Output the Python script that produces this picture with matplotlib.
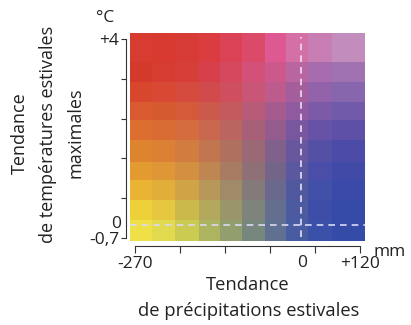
import numpy as np
import matplotlib
matplotlib.use('Agg')
import matplotlib.pyplot as plt
from matplotlib.colors import to_rgb

plt.rcParams['font.family'] = ['Open Sans', 'DejaVu Sans']

# cell colours, read left (dry) to right (wet), one list per row, top row = hottest
row0 = ['#d83b30', '#d83a30', '#d63b35', '#da3c40', '#dc4255', '#dc4a6a', '#de5892', '#d470a6', '#c97eb3', '#c28cbd']
row1 = ['#d33a2c', '#d63d30', '#d63e38', '#d7404a', '#d5485e', '#d35078', '#cc588c', '#b865a0', '#a66cad', '#a072b2']
row2 = ['#d8462e', '#d84832', '#d44a3c', '#d14b4c', '#cf4f5e', '#c95676', '#bc5b8c', '#a55e9c', '#9262aa', '#8866ae']
row3 = ['#d95a2e', '#d65a30', '#d45a3a', '#cc5a4c', '#c45a5e', '#b85b78', '#a65b8e', '#8f5a9f', '#7d5aa8', '#725aaa']
row4 = ['#dc6e30', '#d96c33', '#d46c3e', '#c9684e', '#bb6560', '#a86078', '#935c8c', '#7a569e', '#6652a6', '#5e50a6']
row5 = ['#de842e', '#dc8034', '#d27c40', '#c27650', '#b07060', '#9b6876', '#82608c', '#68569e', '#5450a6', '#4c4ca8']
row6 = ['#e39a30', '#df9636', '#d29040', '#bf8652', '#a87c62', '#8e7076', '#746488', '#5a589e', '#4a4ea8', '#424aa8']
row7 = ['#e9b434', '#e2ae3a', '#d0a446', '#b8985a', '#a08a68', '#857a7a', '#6a688c', '#50589e', '#4250a8', '#3b4aa8']
row8 = ['#eed038', '#e5c840', '#ccb94c', '#b4a85c', '#9a966a', '#7e847c', '#646e8e', '#4c5aa0', '#3e4ea8', '#364aa8']
row9 = ['#efe048', '#e2da4e', '#cbcb52', '#adb460', '#929e6c', '#78877e', '#5f7090', '#485ca2', '#3b50a8', '#344ca8']

x_ticklabels = ['-270', '', '', '', '', '+120']
y_ticklabels = ['-0,7', '', '', '', '', '+4']


def px(x, y):
	# reference pixel -> figure fraction
	return x / 411, 1 - y / 325


def main():
	fig = plt.figure(figsize=(4.11, 3.25), dpi=100)
	ax = fig.add_axes([130 / 411, 84 / 325, 235 / 411, 208 / 325])

	# cell edges in pixels of the legend box (last column / top row are wider)
	x_edges = [0, 22, 45, 69, 90, 112, 135, 156, 178, 202, 235]
	y_edges = [0, 21, 41, 61, 79, 101, 121, 139, 159, 179, 208]

	rows = [row0, row1, row2, row3, row4, row5, row6, row7, row8, row9]
	rgb = np.array([[to_rgb(c) for c in r] for r in rows[::-1]])
	ax.pcolormesh(x_edges, y_edges, rgb, shading='flat')

	ax.set_xlim(0, 235)
	ax.set_ylim(0, 208)

	dash = (0, (4, 3))
	ax.axvline(171, ymin=0.02, ymax=0.98, color='#ecdff5', lw=1.2, ls=dash)
	ax.axhline(16, color='#dcd8f2', lw=1.2, ls=dash)

	for s in ['top', 'right']:
		ax.spines[s].set_visible(False)
	ax.spines['left'].set_position(('outward', 3.2))
	ax.spines['bottom'].set_position(('outward', 3.6))
	ax.spines['left'].set_bounds(3, 202)
	ax.spines['bottom'].set_bounds(5, 230)
	for s in ['left', 'bottom']:
		ax.spines[s].set_linewidth(0.8)
		ax.spines[s].set_color('#333333')

	ax.set_yticks(np.linspace(3, 202, 6))
	ax.set_yticklabels(y_ticklabels)
	ax.set_xticks(np.linspace(5, 230, 6))
	ax.set_xticklabels(x_ticklabels)
	ax.tick_params(axis='y', direction='out', length=3.5, width=0.8, color='#333333', pad=1, labelsize=12.5, labelcolor='#222222')
	ax.tick_params(axis='x', direction='out', length=5, width=0.8, color='#333333', pad=2, labelsize=12.5, labelcolor='#222222')

	# zero markers, units
	fig.text(*px(121, 224), '0', ha='right', va='center', fontsize=12.5, color='#222222')
	fig.text(*px(302, 263), '0', ha='center', va='center', fontsize=12.5, color='#222222')
	fig.text(*px(390, 252), 'mm', ha='center', va='center', fontsize=12.5, color='#222222')
	fig.text(*px(105, 18), '°C', ha='center', va='center', fontsize=12.5, color='#222222')

	# axis titles
	fig.text(*px(248, 285), 'Tendance', ha='center', va='center', fontsize=13.2, color='#222222')
	fig.text(*px(249, 311), 'de précipitations estivales', ha='center', va='center', fontsize=13.2, color='#222222')
	fig.text(*px(20, 133), 'Tendance', ha='center', va='center', rotation=90, fontsize=13, color='#222222')
	fig.text(*px(48, 134), 'de températures estivales', ha='center', va='center', rotation=90, fontsize=13, color='#222222')
	fig.text(*px(75, 133), 'maximales', ha='center', va='center', rotation=90, fontsize=13, color='#222222')

	plt.savefig('out.png', dpi=100)


if __name__ == '__main__':
	main()
